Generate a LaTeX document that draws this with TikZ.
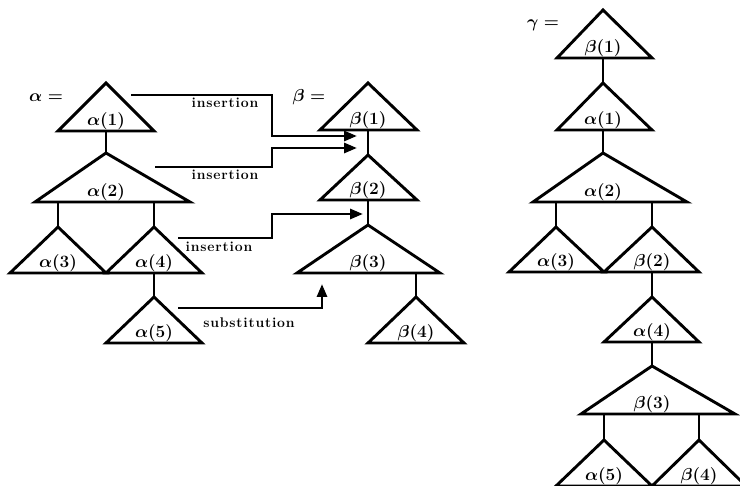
\documentclass[tikz,border=0pt]{standalone}
\usetikzlibrary{arrows.meta,calc}
\makeatletter
\newcommand\lspaced[1]{\@tfor\lsptok:=#1\do{\lsptok\kern0.8pt}\unkern}
\makeatother
\tikzset{
  tree/.style={line width=2.9pt, line join=miter},
  stem/.style={line width=2.9pt},
  oparrow/.style={line width=2.9pt, -{Triangle[length=13pt,width=10pt]}},
  lab/.style={font=\fontsize{16}{18}\selectfont\boldmath, inner sep=0pt},
  eqlab/.style={font=\fontsize{16}{18}\selectfont\boldmath, inner sep=0pt},
  opname/.style={font=\fontsize{14}{16}\selectfont\bfseries, inner sep=0pt}
}
% name, apex x, apex y, left x, right x, base y, label
\newcommand\mytri[7]{%
  \coordinate (#1-a) at (#2,#3);
  \coordinate (#1-l) at (#4,#6);
  \coordinate (#1-r) at (#5,#6);
  \coordinate (#1-b) at (#2,#6);
  \draw[tree] (#1-a) -- (#1-l) -- (#1-r) -- cycle;
  \node[lab, anchor=base] (#1-t) at (#2,{#6-5}) {#7};
}
\begin{document}
\begin{tikzpicture}[x=1pt,y=-1pt]
\useasboundingbox (0,0) rectangle (740,486);
\clip (0,0) rectangle (740,486);

% ---------- alpha ----------
\node[eqlab] (alpha) at (46,98) {$\alpha =$};
\mytri{a1}{106}{83}{58}{154}{131}{$\alpha(1)$}
\mytri{a2}{106}{153}{35}{190}{202}{$\alpha(2)$}
\mytri{a3}{58}{227}{10}{106}{273}{$\alpha(3)$}
\mytri{a4}{154}{227}{106}{202}{273}{$\alpha(4)$}
\mytri{a5}{154}{297}{106}{202}{343}{$\alpha(5)$}
\draw[stem] (a1-b) -- (a2-a);
\draw[stem] (a3-a) -- (a3-a |- a2-b);
\draw[stem] (a4-a) -- (a4-a |- a2-b);
\draw[stem] (a4-b) -- (a5-a);

% ---------- beta ----------
\node[eqlab] (beta) at (309,97) {$\beta =$};
\mytri{b1}{368}{83}{320}{417}{130}{$\beta(1)$}
\mytri{b2}{368}{155}{320}{417}{200}{$\beta(2)$}
\mytri{b3}{368}{225}{297}{440}{273}{$\beta(3)$}
\mytri{b4}{416}{297}{368}{464}{343}{$\beta(4)$}
\draw[stem] (b1-b) -- (b2-a);
\draw[stem] (b2-b) -- (b3-a);
\draw[stem] (b4-a) -- (b4-a |- b3-b);

% ---------- operations ----------
\coordinate (s1) at (131,95);  \coordinate (e1) at (357,136);
\coordinate (s2) at (155,167); \coordinate (e2) at (357,148);
\coordinate (s3) at (178,238); \coordinate (e3) at (363,214);
\coordinate (s4) at (178,308); \coordinate (e4) at (322,284);
\draw[oparrow] (s1) -- (272,95) -- (272,136) -- (e1);
\draw[oparrow] (s2) -- (272,167) -- (272,148) -- (e2);
\draw[oparrow] (s3) -- (272,238) -- (272,214) -- (e3);
\draw[oparrow] (s4) -- (322,308) -- (e4);
\node[opname] (ins1) at (225,103) {\lspaced{insertion}};
\node[opname] (ins2) at (225,175) {\lspaced{insertion}};
\node[opname] (ins3) at (219,247) {\lspaced{insertion}};
\node[opname] (subst) at (249,323) {\lspaced{substitution}};

% ---------- gamma ----------
\node[eqlab] (gamma) at (543,25) {$\gamma =$};
\mytri{g1}{603}{10}{557}{652}{58}{$\beta(1)$}
\mytri{g2}{603}{83}{557}{652}{130}{$\alpha(1)$}
\mytri{g3}{603}{153}{533}{687}{202}{$\alpha(2)$}
\mytri{g4}{556}{227}{509}{604}{272}{$\alpha(3)$}
\mytri{g5}{652}{227}{604}{699}{272}{$\beta(2)$}
\mytri{g6}{652}{297}{604}{699}{342}{$\alpha(4)$}
\mytri{g7}{652}{366}{581}{735}{414}{$\beta(3)$}
\mytri{g8}{604}{440}{556}{652}{486}{$\alpha(5)$}
\mytri{g9}{699}{440}{652}{746}{486}{$\beta(4)$}
\draw[stem] (g1-b) -- (g2-a);
\draw[stem] (g2-b) -- (g3-a);
\draw[stem] (g4-a) -- (g4-a |- g3-b);
\draw[stem] (g5-a) -- (g5-a |- g3-b);
\draw[stem] (g5-b) -- (g6-a);
\draw[stem] (g6-b) -- (g7-a);
\draw[stem] (g8-a) -- (g8-a |- g7-b);
\draw[stem] (g9-a) -- (g9-a |- g7-b);
\end{tikzpicture}
\end{document}
